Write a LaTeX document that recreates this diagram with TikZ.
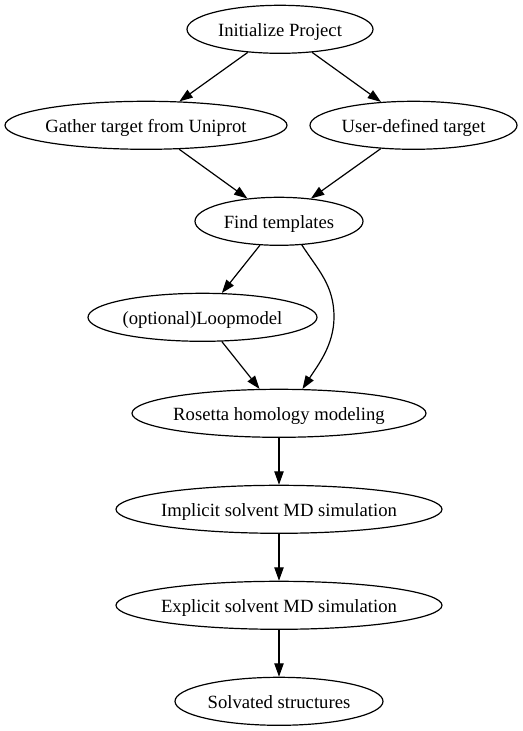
\documentclass[tikz,border=0pt]{standalone}
\usepackage{fontspec}
\setmainfont{Liberation Serif}
\usetikzlibrary{arrows.meta,shapes.geometric}
\newcommand\nodetext[1]{\makebox[0pt]{#1}}
\begin{document}
\begin{tikzpicture}[x=0.75pt,y=-0.75pt,
  nd/.style={draw,ellipse,inner sep=0pt,minimum height=36pt,line width=0.9pt,
    text height=13pt,text depth=2.5pt,font=\fontsize{14pt}{16pt}\selectfont},
  edge/.style={draw,line width=0.9pt,-{Triangle[length=10pt,width=7pt]}}]
\useasboundingbox (0,0) rectangle (523,731);
\node[nd,minimum width=139.5pt] (init) at (280,29.3) {\nodetext{Initialize Project}};
\node[nd,minimum width=211.5pt] (gather) at (146,125.3) {\nodetext{Gather target from Uniprot}};
\node[nd,minimum width=155.25pt] (user) at (413.5,125.3) {\nodetext{User-defined target}};
\node[nd,minimum width=126pt] (find) at (279,221.3) {\nodetext{Find templates}};
\node[nd,minimum width=171.75pt] (loop) at (202.5,317.3) {\nodetext{(optional)Loopmodel}};
\node[nd,minimum width=220.5pt] (ros) at (279,413.3) {\nodetext{Rosetta homology modeling}};
\node[nd,minimum width=244.5pt] (impl) at (279,509.3) {\nodetext{Implicit solvent MD simulation}};
\node[nd,minimum width=244.5pt] (expl) at (279,605.3) {\nodetext{Explicit solvent MD simulation}};
\node[nd,minimum width=156pt] (solv) at (279,701.3) {\nodetext{Solvated structures}};
\draw[edge] (init) -- (gather);
\draw[edge] (init) -- (user);
\draw[edge] (gather) -- (find);
\draw[edge] (user) -- (find);
\draw[edge] (find) -- (loop);
\draw[edge] (loop) -- (ros);
\draw[edge] (find.-46.5) .. controls (318,270) and (334,285) .. (334,317)
   .. controls (334,345) and (318,365) .. (ros.46);
\draw[edge] (ros) -- (impl);
\draw[edge] (impl) -- (expl);
\draw[edge] (expl) -- (solv);
\end{tikzpicture}
\end{document}
